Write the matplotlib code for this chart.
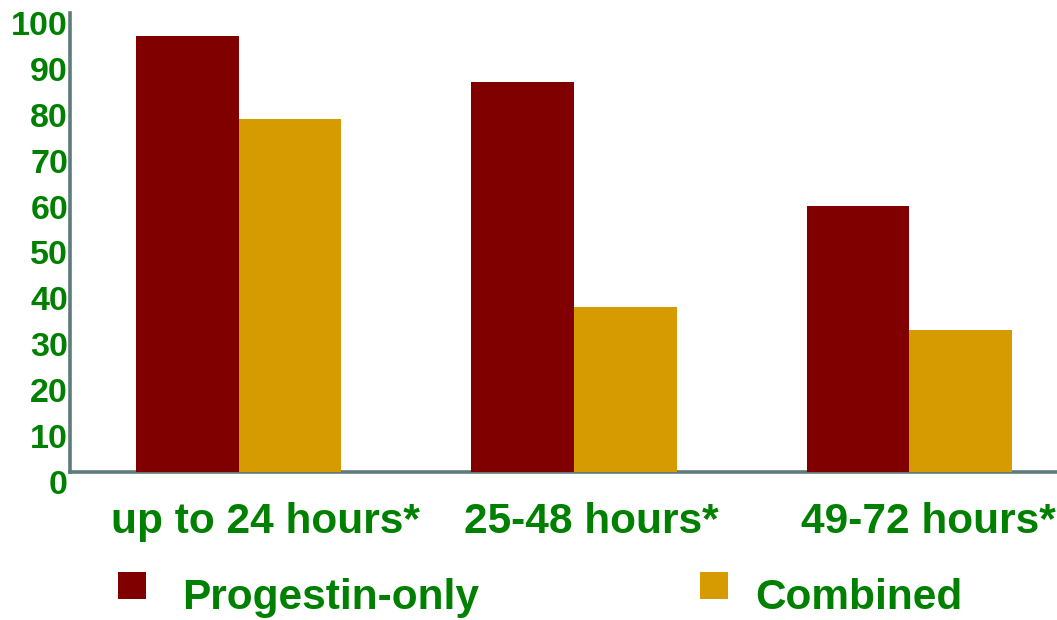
import matplotlib
matplotlib.use("Agg")
import matplotlib.pyplot as plt
import matplotlib.transforms as mtransforms
from matplotlib.patches import Rectangle

# Share of expected pregnancies prevented, by delay before first dose
categories = ["up to 24 hours*", "25-48 hours*", "49-72 hours*"]
series_names = ["Progestin-only", "Combined"]
progestin_only = [95, 85, 58]
combined = [77, 36, 31]
y_ticks = [0, 10, 20, 30, 40, 50, 60, 70, 80, 90, 100]

MAROON = "#800000"
GOLD = "#D69B00"
GREEN = "#008000"
AXIS = "#5E7B7C"
FONT = "Liberation Sans"

W, H, DPI = 1057, 620, 100
fig = plt.figure(figsize=(W / DPI, H / DPI), dpi=DPI)
fig.patch.set_facecolor("white")

left_px, right_px, top_px, zero_px = 70, 1057, 13, 472
ax = fig.add_axes([left_px / W, (H - zero_px) / H,
                   (right_px - left_px) / W, (zero_px - top_px) / H])

x = list(range(len(categories)))
width = 0.306
ax.bar([i - width / 2 for i in x], progestin_only, width, color=MAROON,
       zorder=3, linewidth=0)
ax.bar([i + width / 2 for i in x], combined, width, color=GOLD,
       zorder=3, linewidth=0)

ax.set_xlim(-0.503, 2.44)
ax.set_ylim(0, 100)

for side in ("top", "right"):
    ax.spines[side].set_visible(False)
for side in ("left", "bottom"):
    ax.spines[side].set_color(AXIS)
    ax.spines[side].set_linewidth(2.6)
    ax.spines[side].set_zorder(2)

ax.set_xticks([])
ax.set_yticks([])

# y tick labels, sitting slightly below their gridline positions
ytrans = mtransforms.blended_transform_factory(ax.transAxes, ax.transData)
yshift = mtransforms.ScaledTranslation(-2 / DPI, -22 / DPI, fig.dpi_scale_trans)
for v in y_ticks:
    ax.text(0, v, str(v), transform=ytrans + yshift, ha="right", va="baseline",
            fontsize=24.5, fontweight="bold", color=GREEN, family=FONT)

# category labels under each group
xtrans = mtransforms.blended_transform_factory(ax.transData, fig.transFigure)
label_dx = [27, 17, 19]
for i, (cat, dx) in enumerate(zip(categories, label_dx)):
    shift = mtransforms.ScaledTranslation(dx / DPI, 0, fig.dpi_scale_trans)
    ax.text(i, (H - 533) / H, cat, transform=xtrans + shift, ha="center",
            va="baseline", fontsize=30.5, fontweight="bold", color=GREEN,
            family=FONT, clip_on=False)

# legend: coloured squares with series names
legend_items = [(series_names[0], MAROON, 118, 182), (series_names[1], GOLD, 700, 755)]
for name, color, sq_x, txt_x in legend_items:
    fig.patches.append(Rectangle((sq_x / W, (H - 599) / H), 28 / W, 27 / H,
                                 transform=fig.transFigure, facecolor=color,
                                 edgecolor="none"))
    fig.text(txt_x / W, (H - 609) / H, name, ha="left", va="baseline",
             fontsize=30.5, fontweight="bold", color=GREEN, family=FONT)

fig.savefig("out.png", dpi=DPI, facecolor="white")
